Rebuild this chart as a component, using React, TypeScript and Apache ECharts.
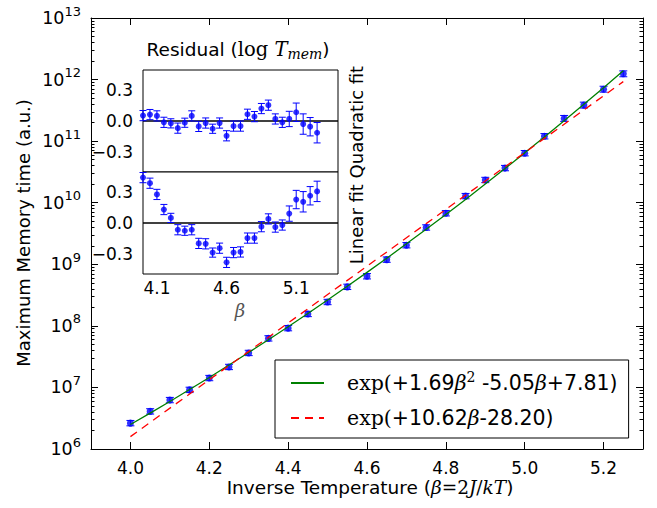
import React, { useEffect, useRef } from 'react';
import * as echarts from 'echarts';

// ---- data ----
const beta = [4.0, 4.05, 4.1, 4.15, 4.2, 4.25, 4.3, 4.35, 4.4, 4.45, 4.5, 4.55, 4.6, 4.65, 4.7, 4.75, 4.8, 4.85, 4.9, 4.95, 5.0, 5.05, 5.1, 5.15, 5.2, 5.25];
const memoryTime = [2.63e6, 4.08e6, 6.23e6, 9.12e6, 1.42e7, 2.15e7, 3.63e7, 6.26e7, 9.18e7, 1.56e8, 2.44e8, 4.30e8, 6.39e8, 1.19e9, 2.04e9, 3.96e9, 6.74e9, 1.28e10, 2.34e10, 3.65e10, 6.37e10, 1.20e11, 2.34e11, 3.85e11, 6.98e11, 1.24e12];
// error of log(T_mem) in the main panel
const memoryErrLog = [0.1, 0.1, 0.1, 0.1, 0.1, 0.1, 0.1, 0.1, 0.1, 0.1, 0.1, 0.1, 0.1, 0.1, 0.1, 0.1, 0.1, 0.1, 0.1, 0.1, 0.1, 0.1, 0.11, 0.11, 0.11, 0.11];
const quadFitCurve = [2.50e6, 3.83e6, 5.92e6, 9.24e6, 1.45e7, 2.31e7, 3.69e7, 5.95e7, 9.68e7, 1.59e8, 2.63e8, 4.39e8, 7.39e8, 1.25e9, 2.15e9, 3.71e9, 6.45e9, 1.13e10, 2.01e10, 3.58e10, 6.45e10, 1.17e11, 2.15e11, 3.96e11, 7.38e11, 1.39e12];
const linFitBeta = [4.0, 5.25];
const linFitCurve = [1.59e6, 9.27e11];

const quadResidual = [0.053, 0.063, 0.05, -0.013, -0.023, -0.07, -0.017, 0.05, -0.053, -0.02, -0.076, -0.02, -0.145, -0.05, -0.05, 0.066, 0.043, 0.122, 0.155, 0.02, -0.013, 0.02, 0.086, -0.03, -0.056, -0.115];
const linResidual = [0.445, 0.39, 0.28, 0.132, 0.05, -0.066, -0.076, -0.066, -0.2, -0.204, -0.29, -0.247, -0.386, -0.29, -0.284, -0.148, -0.148, -0.036, 0.04, -0.04, -0.02, 0.092, 0.23, 0.208, 0.267, 0.31];
const residualErr = [0.05, 0.05, 0.05, 0.05, 0.045, 0.05, 0.045, 0.05, 0.05, 0.05, 0.045, 0.05, 0.05, 0.05, 0.05, 0.05, 0.05, 0.05, 0.05, 0.05, 0.05, 0.075, 0.09, 0.1, 0.09, 0.1];

const xTicks = [4.0, 4.2, 4.4, 4.6, 4.8, 5.0, 5.2];
const yMajorTicks = [1e6, 1e7, 1e8, 1e9, 1e10, 1e11, 1e12, 1e13];
const insetXTicks = [4.1, 4.6, 5.1];
const insetYTicks = [-0.3, 0.0, 0.3];

const legendNames = ['quad', 'lin'];

const SANS = '"DejaVu Sans", sans-serif';
const SERIF = '"DejaVu Serif", serif';

const yMinorTicks: number[] = [];
for (let i = 0; i < yMajorTicks.length - 1; i++) {
  for (let k = 2; k <= 9; k++) yMinorTicks.push(k * yMajorTicks[i]);
}

function errorBarRenderer(halfWidth: number) {
  return (params: any, api: any) => {
    const x = api.value(0);
    const lo = api.coord([x, api.value(1)]);
    const hi = api.coord([x, api.value(2)]);
    const st = { stroke: '#0000ff', lineWidth: 1 };
    return {
      type: 'group',
      children: [
        { type: 'line', shape: { x1: lo[0], y1: lo[1], x2: hi[0], y2: hi[1] }, style: st },
        { type: 'line', shape: { x1: lo[0] - halfWidth, y1: lo[1], x2: lo[0] + halfWidth, y2: lo[1] }, style: st },
        { type: 'line', shape: { x1: hi[0] - halfWidth, y1: hi[1], x2: hi[0] + halfWidth, y2: hi[1] }, style: st },
      ],
    };
  };
}

const tickLabelStyle = { color: '#000', fontSize: 17, fontFamily: SANS, lineHeight: 18 };

function hiddenAxisBase() {
  return {
    axisLine: { show: false },
    splitLine: { show: false },
    axisLabel: { show: false },
  };
}

export default function App() {
  const ref = useRef<HTMLDivElement>(null);

  useEffect(() => {
    if (!ref.current) return;
    const chart = echarts.init(ref.current, null, { renderer: 'svg' });

    const mainErr = beta.map((b, i) => [b, memoryTime[i] * Math.exp(-memoryErrLog[i]), memoryTime[i] * Math.exp(memoryErrLog[i])]);
    const mainPts = beta.map((b, i) => [b, memoryTime[i]]);
    const quadLine = beta.map((b, i) => [b, quadFitCurve[i]]);
    const linLine = linFitBeta.map((b, i) => [b, linFitCurve[i]]);
    const qErr = beta.map((b, i) => [b, quadResidual[i] - residualErr[i], quadResidual[i] + residualErr[i]]);
    const qPts = beta.map((b, i) => [b, quadResidual[i]]);
    const lErr = beta.map((b, i) => [b, linResidual[i] - residualErr[i], linResidual[i] + residualErr[i]]);
    const lPts = beta.map((b, i) => [b, linResidual[i]]);

    const mainX = { min: 3.9, max: 5.3, splitNumber: 7 };
    const mainY = { type: 'log' as const, logBase: 10, min: 1e6, max: 1e13 };
    const insetX = { type: 'value' as const, min: 4.0, max: 5.4 };
    const insetY = { type: 'value' as const, min: -0.5, max: 0.5 };

    const insetYLabel = {
      ...tickLabelStyle,
      margin: 10,
      customValues: insetYTicks,
      formatter: (v: number) => (v < -1e-9 ? '\u2212' : '') + Math.abs(v).toFixed(1),
    };

    const legendRich = {
      s: { fontFamily: SERIF, fontSize: 20.5, color: '#000', lineHeight: 26 },
      i: { fontFamily: SERIF, fontStyle: 'italic', fontSize: 20.5, color: '#000', lineHeight: 26 },
      n: { fontFamily: SANS, fontSize: 20.5, color: '#000', lineHeight: 26 },
      sup: { fontFamily: SERIF, fontSize: 14, color: '#000', verticalAlign: 'top', lineHeight: 18 },
    };

    chart.setOption({
      animation: false,
      backgroundColor: '#fff',
      grid: [
        { left: 91, top: 18, width: 552, height: 431, show: false },
        { left: 143, top: 70, width: 195, height: 102, show: true, backgroundColor: '#fff', borderColor: '#000', borderWidth: 1, z: 3 },
        { left: 143, top: 172, width: 195, height: 102, show: true, backgroundColor: '#fff', borderColor: '#000', borderWidth: 1, z: 3 },
      ],
      xAxis: [
        {
          type: 'value', gridIndex: 0, position: 'bottom', ...mainX,
          axisLine: { show: true, lineStyle: { color: '#000', width: 1 } },
          axisTick: { show: true, inside: true, length: 7, customValues: xTicks, lineStyle: { color: '#000' } },
          axisLabel: { ...tickLabelStyle, margin: 10, customValues: xTicks, formatter: (v: number) => v.toFixed(1) },
          splitLine: { show: false },
        },
        {
          type: 'value', gridIndex: 0, position: 'top', ...mainX,
          axisLine: { show: true, lineStyle: { color: '#000', width: 1 } },
          axisTick: { show: true, inside: true, length: 7, customValues: xTicks, lineStyle: { color: '#000' } },
          axisLabel: { show: false },
          splitLine: { show: false },
        },
        {
          ...insetX, gridIndex: 1, position: 'bottom', ...hiddenAxisBase(),
          axisTick: { show: true, inside: true, length: 6, customValues: insetXTicks, lineStyle: { color: '#000' } },
        },
        {
          ...insetX, gridIndex: 1, position: 'top', ...hiddenAxisBase(),
          axisTick: { show: true, inside: true, length: 6, customValues: insetXTicks, lineStyle: { color: '#000' } },
        },
        {
          ...insetX, gridIndex: 2, position: 'bottom',
          axisLine: { show: false }, splitLine: { show: false },
          axisTick: { show: true, inside: true, length: 6, customValues: insetXTicks, lineStyle: { color: '#000' } },
          axisLabel: { ...tickLabelStyle, margin: 5, customValues: insetXTicks, formatter: (v: number) => v.toFixed(1) },
        },
        {
          ...insetX, gridIndex: 2, position: 'top', ...hiddenAxisBase(),
          axisTick: { show: true, inside: true, length: 6, customValues: insetXTicks, lineStyle: { color: '#000' } },
        },
      ],
      yAxis: [
        {
          ...mainY, gridIndex: 0, position: 'left',
          axisLine: { show: true, lineStyle: { color: '#000', width: 1 } },
          axisTick: { show: true, inside: true, length: 7, customValues: yMajorTicks, lineStyle: { color: '#000' } },
          axisLabel: {
            ...tickLabelStyle, margin: 10, customValues: yMajorTicks,
            formatter: (v: number) => `{b|10}{s|${Math.round(Math.log10(v))}}`,
            rich: {
              b: { fontSize: 17.5, fontFamily: SANS, color: '#000', lineHeight: 27 },
              s: { fontSize: 13, fontFamily: SANS, color: '#000', lineHeight: 15, verticalAlign: 'top' },
            },
          },
          splitLine: { show: false },
        },
        {
          ...mainY, gridIndex: 0, position: 'left', ...hiddenAxisBase(),
          axisTick: { show: true, inside: true, length: 3.5, customValues: yMinorTicks, lineStyle: { color: '#000' } },
        },
        {
          ...mainY, gridIndex: 0, position: 'right',
          axisLine: { show: true, lineStyle: { color: '#000', width: 1 } },
          axisTick: { show: true, inside: true, length: 7, customValues: yMajorTicks, lineStyle: { color: '#000' } },
          axisLabel: { show: false },
          splitLine: { show: false },
        },
        {
          ...mainY, gridIndex: 0, position: 'right', ...hiddenAxisBase(),
          axisTick: { show: true, inside: true, length: 3.5, customValues: yMinorTicks, lineStyle: { color: '#000' } },
        },
        {
          ...insetY, gridIndex: 1, position: 'left',
          axisLine: { show: false }, splitLine: { show: false },
          axisTick: { show: true, inside: true, length: 6, customValues: insetYTicks, lineStyle: { color: '#000' } },
          axisLabel: insetYLabel,
        },
        {
          ...insetY, gridIndex: 1, position: 'right', ...hiddenAxisBase(),
          axisTick: { show: true, inside: true, length: 6, customValues: insetYTicks, lineStyle: { color: '#000' } },
        },
        {
          ...insetY, gridIndex: 2, position: 'left',
          axisLine: { show: false }, splitLine: { show: false },
          axisTick: { show: true, inside: true, length: 6, customValues: insetYTicks, lineStyle: { color: '#000' } },
          axisLabel: insetYLabel,
        },
        {
          ...insetY, gridIndex: 2, position: 'right', ...hiddenAxisBase(),
          axisTick: { show: true, inside: true, length: 6, customValues: insetYTicks, lineStyle: { color: '#000' } },
        },
      ],
      legend: {
        data: legendNames,
        orient: 'vertical',
        left: 275,
        top: 360,
        padding: [10, 11, 7, 15],
        itemGap: 9,
        itemWidth: 33,
        itemHeight: 24,
        itemStyle: { opacity: 0 },
        selectedMode: false,
        backgroundColor: '#fff',
        borderColor: '#000',
        borderWidth: 1,
        borderRadius: 0,
        textStyle: { fontSize: 20.5, fontFamily: SANS, color: '#000', lineHeight: 26, padding: [0, 0, 0, 18], rich: legendRich },
        formatter: (name: string) =>
          name === 'quad'
            ? '{s|exp(}{n|+1.69}{i|β}{sup|2}{n| -5.05}{i|β}{n|+7.81)}'
            : '{s|exp(}{n|+10.62}{i|β}{n|-28.20)}',
      },
      series: [
        {
          type: 'custom', xAxisIndex: 0, yAxisIndex: 0, z: 2,
          renderItem: errorBarRenderer(4), data: mainErr, encode: { x: 0, y: [1, 2] }, silent: true,
        },
        {
          type: 'scatter', xAxisIndex: 0, yAxisIndex: 0, z: 3, data: mainPts,
          symbol: 'circle', symbolSize: 7, itemStyle: { color: '#0000ff' }, silent: true,
        },
        {
          name: 'quad', type: 'line', xAxisIndex: 0, yAxisIndex: 0, z: 4, data: quadLine,
          symbol: 'none', showSymbol: false, lineStyle: { color: '#008000', width: 1.3 }, itemStyle: { color: '#008000' }, silent: true,
        },
        {
          name: 'lin', type: 'line', xAxisIndex: 0, yAxisIndex: 0, z: 4, data: linLine,
          symbol: 'none', showSymbol: false, lineStyle: { color: '#ff0000', width: 1.3, type: [8, 6] }, itemStyle: { color: '#ff0000' }, silent: true,
        },
        {
          type: 'custom', xAxisIndex: 2, yAxisIndex: 4, z: 5,
          renderItem: errorBarRenderer(3.5), data: qErr, encode: { x: 0, y: [1, 2] }, silent: true,
        },
        {
          type: 'scatter', xAxisIndex: 2, yAxisIndex: 4, z: 6, data: qPts,
          symbol: 'circle', symbolSize: 6, itemStyle: { color: '#0000ff' }, silent: true,
          markLine: {
            silent: true, symbol: 'none', label: { show: false },
            lineStyle: { color: '#000', width: 1.5, type: 'solid' },
            data: [{ yAxis: 0 }],
          },
        },
        {
          type: 'custom', xAxisIndex: 4, yAxisIndex: 6, z: 5,
          renderItem: errorBarRenderer(3.5), data: lErr, encode: { x: 0, y: [1, 2] }, silent: true,
        },
        {
          type: 'scatter', xAxisIndex: 4, yAxisIndex: 6, z: 6, data: lPts,
          symbol: 'circle', symbolSize: 6, itemStyle: { color: '#0000ff' }, silent: true,
          markLine: {
            silent: true, symbol: 'none', label: { show: false },
            lineStyle: { color: '#000', width: 1.5, type: 'solid' },
            data: [{ yAxis: 0 }],
          },
        },
      ],
      graphic: [
        {
          type: 'text', x: 23, y: 233, rotation: Math.PI / 2,
          style: { text: 'Maximum Memory time (a.u.)', fontSize: 18, fontFamily: SANS, fill: '#000', align: 'center', verticalAlign: 'middle' },
        },
        {
          type: 'text', x: 370, y: 487,
          style: {
            text: '{n|Inverse Temperature (}{i|β}{r|=2}{i|J}{r|/}{i|kT}{n|)}',
            fontSize: 18, fontFamily: SANS, fill: '#000', align: 'center', verticalAlign: 'middle',
            rich: {
              n: { fontSize: 18.5, fontFamily: SANS, fill: '#000', lineHeight: 19 },
              i: { fontSize: 18.5, fontFamily: SERIF, fontStyle: 'italic', fill: '#000', lineHeight: 19 },
              r: { fontSize: 18.5, fontFamily: SERIF, fill: '#000', lineHeight: 19 },
            },
          },
        },
        {
          type: 'text', x: 238, y: 49,
          style: {
            text: '{n|Residual (}{r|log }{i|T}{sub|mem}{n|)}',
            fontSize: 18, fontFamily: SANS, fill: '#000', align: 'center', verticalAlign: 'middle',
            rich: {
              n: { fontSize: 18.5, fontFamily: SANS, fill: '#000', lineHeight: 24 },
              r: { fontSize: 19.5, fontFamily: SERIF, fill: '#000', lineHeight: 24 },
              i: { fontSize: 19.5, fontFamily: SERIF, fontStyle: 'italic', fill: '#000', lineHeight: 24 },
              sub: { fontSize: 14, fontFamily: SERIF, fontStyle: 'italic', fill: '#000', lineHeight: 16, verticalAlign: 'bottom' },
            },
          },
        },
        {
          type: 'text', x: 240, y: 310,
          style: { text: 'β', fontSize: 18, fontFamily: SERIF, fontStyle: 'italic', fill: '#555', align: 'center', verticalAlign: 'middle' },
        },
        {
          type: 'text', x: 356, y: 165, rotation: Math.PI / 2,
          style: { text: 'Linear fit Quadratic fit', fontSize: 18, fontFamily: SANS, fill: '#000', align: 'center', verticalAlign: 'middle' },
        },
      ],
    });

    return () => chart.dispose();
  }, []);

  return <div ref={ref} style={{ width: 657, height: 508, position: 'absolute', left: 0, top: 0 }} />;
}
